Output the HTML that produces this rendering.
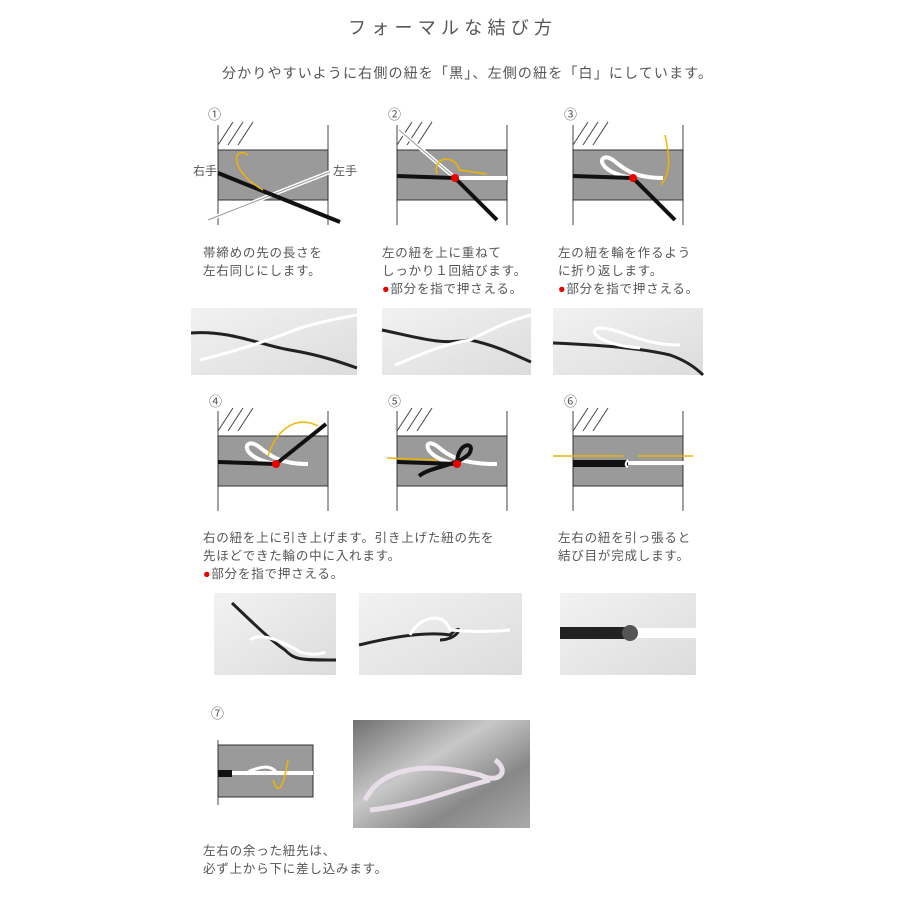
<!DOCTYPE html>
<html><head><meta charset="utf-8"><style>
html,body{margin:0;padding:0;background:#fff;}
svg{display:block;}
text{font-family:"Liberation Sans","Noto Sans CJK JP",sans-serif;fill:#555;}
.b text{letter-spacing:0.8px;}
</style></head><body>
<svg width="900" height="900" viewBox="0 0 900 900" xmlns="http://www.w3.org/2000/svg">
<defs>
<linearGradient id="ph" x1="0" y1="0" x2="1" y2="1"><stop offset="0" stop-color="#f2f2f2"/><stop offset="1" stop-color="#dcdcdc"/></linearGradient>
<linearGradient id="ph7" x1="0" y1="0" x2="1" y2="1"><stop offset="0" stop-color="#707070"/><stop offset="0.4" stop-color="#c8c8c8"/><stop offset="0.7" stop-color="#888"/><stop offset="1" stop-color="#aaa"/></linearGradient>
<g id="frame">
<line x1="0" y1="-25" x2="0" y2="75" stroke="#444" stroke-width="1"/>
<line x1="110" y1="-25" x2="110" y2="75" stroke="#444" stroke-width="1"/>
<line x1="0" y1="-5" x2="15" y2="-28" stroke="#444"/>
<line x1="10" y1="-5" x2="25" y2="-28" stroke="#444"/>
<line x1="20" y1="-5" x2="35" y2="-28" stroke="#444"/>
<rect x="0" y="0" width="110" height="50" fill="#9a9a9a" stroke="#333"/>
</g>
</defs>

<text x="348" y="34" font-size="18" textLength="204" fill="#666">フォーマルな結び方</text>
<text x="222" y="78" font-size="14" textLength="490">分かりやすいように右側の紐を「黒」、左側の紐を「白」にしています。</text>

<g font-size="13" fill="#555">
<text x="208" y="119">①</text><text x="388" y="119">②</text><text x="564" y="119">③</text>
<text x="209" y="406">④</text><text x="388" y="406">⑤</text><text x="564" y="406">⑥</text>
<text x="211" y="718">⑦</text>
</g>

<g transform="translate(218,150)">
<use href="#frame"/>
<line x1="-10" y1="70" x2="112" y2="22" stroke="#fff" stroke-width="4"/>
<line x1="-10" y1="70" x2="112" y2="22" stroke="#999" stroke-width="1"/>
<line x1="0" y1="23" x2="122" y2="72" stroke="#111" stroke-width="4"/>
<path d="M45 40 C10 20 15 -5 30 5" stroke="#f0b400" fill="none" stroke-width="1.5"/>
</g>
<text x="193" y="175" font-size="12">右手</text>
<text x="333" y="175" font-size="12">左手</text>

<g transform="translate(397,150)">
<use href="#frame"/>
<line x1="2" y1="-20" x2="58" y2="28" stroke="#fff" stroke-width="4"/>
<line x1="2" y1="-20" x2="58" y2="28" stroke="#999" stroke-width="1"/>
<line x1="58" y1="28" x2="110" y2="28" stroke="#fff" stroke-width="4"/>
<line x1="0" y1="26" x2="58" y2="28" stroke="#111" stroke-width="4"/>
<line x1="58" y1="28" x2="100" y2="70" stroke="#111" stroke-width="4"/>
<path d="M40 24 C35 5 60 5 62 20 L90 24" stroke="#f0b400" fill="none" stroke-width="1.5"/>
<circle cx="58" cy="28" r="4" fill="#e00"/>
</g>

<g transform="translate(573,150)">
<use href="#frame"/>
<path d="M60 28 C20 22 25 0 40 10 C50 18 60 28 90 28" stroke="#fff" stroke-width="4" fill="none"/>
<line x1="0" y1="26" x2="60" y2="28" stroke="#111" stroke-width="4"/>
<line x1="60" y1="28" x2="102" y2="70" stroke="#111" stroke-width="4"/>
<path d="M88 35 C100 20 95 0 92 -15" stroke="#f0b400" fill="none" stroke-width="1.5"/>
<circle cx="60" cy="28" r="4" fill="#e00"/>
</g>

<g font-size="12.5" class="b">
<text x="203" y="257">帯締めの先の長さを</text>
<text x="203" y="275">左右同じにします。</text>
<text x="382" y="257">左の紐を上に重ねて</text>
<text x="382" y="275">しっかり１回結びます。</text>
<text x="382" y="293"><tspan fill="#e00">●</tspan>部分を指で押さえる。</text>
<text x="558" y="257">左の紐を輪を作るよう</text>
<text x="558" y="275">に折り返します。</text>
<text x="558" y="293"><tspan fill="#e00">●</tspan>部分を指で押さえる。</text>
</g>

<rect x="191" y="308" width="166" height="67" fill="url(#ph)"/>
<path d="M191 333 C230 330 260 345 290 350 C320 355 340 362 357 368" stroke="#222" stroke-width="3" fill="none"/>
<path d="M200 360 C240 350 270 340 300 328 C320 322 340 318 357 315" stroke="#fff" stroke-width="3" fill="none"/>
<rect x="382" y="308" width="149" height="67" fill="url(#ph)"/>
<path d="M382 330 C420 338 440 345 470 340 C495 345 515 355 531 362" stroke="#222" stroke-width="3" fill="none"/>
<path d="M395 365 C420 355 440 345 470 340 C490 330 510 320 531 315" stroke="#fff" stroke-width="3" fill="none"/>
<rect x="553" y="308" width="150" height="67" fill="url(#ph)"/>
<path d="M553 343 C600 345 640 348 670 355 C690 362 700 372 703 375" stroke="#222" stroke-width="3" fill="none"/>
<path d="M640 348 C600 345 585 330 600 328 C620 328 640 345 680 345" stroke="#fff" stroke-width="3" fill="none"/>

<g transform="translate(218,436)">
<use href="#frame"/>
<path d="M58 28 C20 22 25 0 40 10 C50 18 60 28 90 28" stroke="#fff" stroke-width="4" fill="none"/>
<line x1="0" y1="26" x2="58" y2="28" stroke="#111" stroke-width="4"/>
<line x1="58" y1="28" x2="108" y2="-12" stroke="#111" stroke-width="4"/>
<path d="M50 20 C60 -10 80 -20 100 -10" stroke="#f0b400" fill="none" stroke-width="1.5"/>
<circle cx="58" cy="28" r="4" fill="#e00"/>
</g>

<g transform="translate(397,436)">
<use href="#frame"/>
<path d="M60 28 C25 22 25 0 40 10 C50 18 60 28 100 28" stroke="#fff" stroke-width="4" fill="none"/>
<line x1="0" y1="26" x2="60" y2="28" stroke="#111" stroke-width="4"/>
<path d="M60 28 C60 5 80 5 72 18 C60 30 35 30 22 40" stroke="#111" stroke-width="4" fill="none"/>
<path d="M40 24 L-10 22" stroke="#f0b400" fill="none" stroke-width="1.5"/>
<circle cx="60" cy="28" r="4" fill="#e00"/>
</g>

<g transform="translate(573,436)">
<use href="#frame"/>
<rect x="0" y="24" width="55" height="7" fill="#111"/>
<line x1="55" y1="27" x2="125" y2="27" stroke="#fff" stroke-width="4"/>
<path d="M55 24 C52 27 52 30 55 31" stroke="#fff" stroke-width="2" fill="none"/>
<line x1="-20" y1="20" x2="50" y2="20" stroke="#f0b400" stroke-width="1.5"/>
<line x1="65" y1="20" x2="120" y2="20" stroke="#f0b400" stroke-width="1.5"/>
</g>

<g font-size="12.5" class="b">
<text x="203" y="542">右の紐を上に引き上げます。引き上げた紐の先を</text>
<text x="203" y="560">先ほどできた輪の中に入れます。</text>
<text x="203" y="578"><tspan fill="#e00">●</tspan>部分を指で押さえる。</text>
<text x="558" y="542">左右の紐を引っ張ると</text>
<text x="558" y="560">結び目が完成します。</text>
</g>

<rect x="214" y="593" width="122" height="82" fill="url(#ph)"/>
<path d="M232 603 C250 620 270 640 285 650 C295 660 300 660 336 660" stroke="#222" stroke-width="3" fill="none"/>
<path d="M250 640 C260 632 280 640 300 652 C310 655 320 655 325 652" stroke="#fff" stroke-width="3" fill="none"/>
<rect x="359" y="593" width="163" height="82" fill="url(#ph)"/>
<path d="M359 645 C400 635 430 632 450 635 C465 620 460 640 440 640" stroke="#222" stroke-width="3" fill="none"/>
<path d="M410 635 C420 615 445 612 450 630 C470 632 490 632 510 630" stroke="#fff" stroke-width="3" fill="none"/>
<rect x="560" y="593" width="136" height="82" fill="url(#ph)"/>
<rect x="560" y="627" width="70" height="12" fill="#222"/>
<rect x="630" y="628" width="66" height="10" fill="#fff"/>
<circle cx="630" cy="633" r="8" fill="#555"/>

<g transform="translate(218,745)">
<line x1="0" y1="-5" x2="0" y2="60" stroke="#444"/>
<rect x="0" y="0" width="95" height="52" fill="#9a9a9a" stroke="#333"/>
<rect x="0" y="25" width="14" height="7" fill="#111"/>
<line x1="14" y1="28" x2="95" y2="28" stroke="#fff" stroke-width="4"/>
<path d="M30 27 C45 20 55 20 60 30" stroke="#fff" stroke-width="3" fill="none"/>
<path d="M55 35 C60 50 65 45 70 15" stroke="#f0b400" fill="none" stroke-width="1.5"/>
</g>
<rect x="353" y="720" width="177" height="108" fill="url(#ph7)"/>
<path d="M365 800 C380 770 420 760 480 775 C500 785 510 770 495 760" stroke="#e8dde8" stroke-width="5" fill="none"/>
<path d="M370 810 C420 805 450 790 490 780" stroke="#e8dde8" stroke-width="5" fill="none"/>

<g font-size="12.5" class="b">
<text x="203" y="855">左右の余った紐先は、</text>
<text x="203" y="873">必ず上から下に差し込みます。</text>
</g>
</svg>
</body></html>
